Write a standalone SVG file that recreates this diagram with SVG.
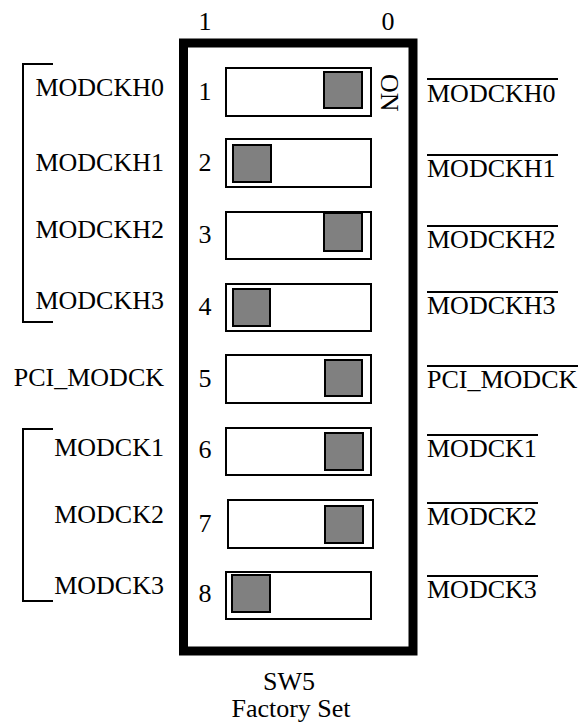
<svg xmlns="http://www.w3.org/2000/svg" width="580" height="727" viewBox="0 0 580 727" font-family="'Liberation Serif', 'Times New Roman', Times, serif" font-size="26">
<style>
text{font-family:'Liberation Serif','Times New Roman',Times,serif;font-size:26px;fill:#000}
.sw{fill:#fff;stroke:#000;stroke-width:2}
.knob{fill:#808080;stroke:#000;stroke-width:2}
.bar{stroke:#000;stroke-width:2}
.brk{fill:none;stroke:#000;stroke-width:2}
.num{text-anchor:middle}
.lft{text-anchor:end}
</style>
<rect width="580" height="727" fill="#fff"/>
<g id="frame">
<rect x="183.5" y="43" width="229.5" height="608" fill="none" stroke="#000" stroke-width="9"/>
<text x="205" y="30" class="num">1</text>
<text x="388" y="30" class="num">0</text>
<text transform="translate(381,74) rotate(90)">ON</text>
</g>
<g id="brackets">
<polyline class="brk" points="53,64 23,64 23,322 53,322"/>
<polyline class="brk" points="53,429 23,429 23,601 53,601"/>
</g>
<g id="sw1"><rect class="sw" x="226" y="68" width="145" height="48"/><rect class="knob" x="324" y="72" width="38" height="36"/><text class="num" x="205" y="100">1</text></g>
<g id="sw2"><rect class="sw" x="226" y="139" width="145" height="48"/><rect class="knob" x="233" y="145" width="38" height="37"/><text class="num" x="205" y="171">2</text></g>
<g id="sw3"><rect class="sw" x="226" y="212" width="145" height="47"/><rect class="knob" x="324" y="213" width="38" height="38"/><text class="num" x="205" y="243">3</text></g>
<g id="sw4"><rect class="sw" x="226" y="284" width="145" height="47"/><rect class="knob" x="233" y="289" width="37" height="37"/><text class="num" x="205" y="315">4</text></g>
<g id="sw5"><rect class="sw" x="226" y="355" width="145" height="48"/><rect class="knob" x="325" y="360" width="37" height="36"/><text class="num" x="205" y="387">5</text></g>
<g id="sw6"><rect class="sw" x="226" y="428" width="145" height="47"/><rect class="knob" x="325" y="433" width="38" height="37"/><text class="num" x="205" y="458">6</text></g>
<g id="sw7"><rect class="sw" x="228" y="500" width="145" height="48"/><rect class="knob" x="325" y="506" width="38" height="37"/><text class="num" x="205" y="532">7</text></g>
<g id="sw8"><rect class="sw" x="226" y="572" width="145" height="47"/><rect class="knob" x="232" y="575" width="38" height="37"/><text class="num" x="205" y="602">8</text></g>
<g id="left-labels">
<text class="lft" x="164" y="96">MODCKH0</text>
<text class="lft" x="164" y="171">MODCKH1</text>
<text class="lft" x="164" y="238">MODCKH2</text>
<text class="lft" x="164" y="309">MODCKH3</text>
<text class="lft" x="164" y="386">PCI_MODCK</text>
<text class="lft" x="164" y="456">MODCK1</text>
<text class="lft" x="164" y="523">MODCK2</text>
<text class="lft" x="164" y="594">MODCK3</text>
</g>
<g id="right-labels">
<line class="bar" x1="427" y1="79" x2="558" y2="79"/><text x="427" y="102">MODCKH0</text>
<line class="bar" x1="427" y1="155" x2="558" y2="155"/><text x="427" y="177">MODCKH1</text>
<line class="bar" x1="427" y1="226" x2="558" y2="226"/><text x="427" y="248">MODCKH2</text>
<line class="bar" x1="427" y1="292" x2="558" y2="292"/><text x="427" y="314">MODCKH3</text>
<line class="bar" x1="427" y1="366" x2="578" y2="366"/><text x="427" y="388">PCI_MODCK</text>
<line class="bar" x1="427" y1="435" x2="538" y2="435"/><text x="427" y="457">MODCK1</text>
<line class="bar" x1="427" y1="503" x2="538" y2="503"/><text x="427" y="525">MODCK2</text>
<line class="bar" x1="427" y1="576" x2="538" y2="576"/><text x="427" y="598">MODCK3</text>
</g>
<g id="caption">
<text class="num" x="289" y="690">SW5</text>
<text class="num" x="291" y="717">Factory Set</text>
</g>
</svg>
